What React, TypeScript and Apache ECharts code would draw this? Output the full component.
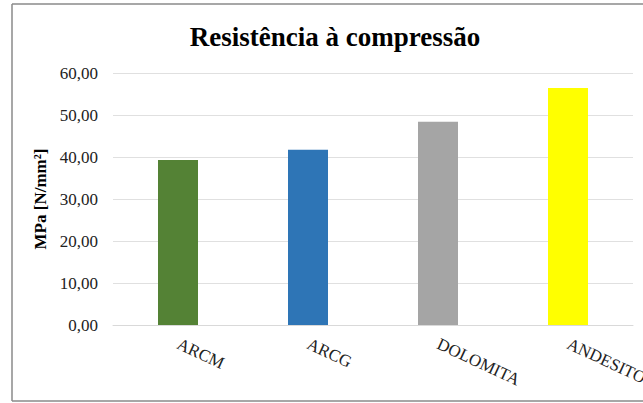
import React, { useEffect, useRef } from "react";
import * as echarts from "echarts";

const categories = ["ARCM", "ARCG", "DOLOMITA", "ANDESITO"];
const values = [39.3, 41.7, 48.4, 56.4];
const barColors = ["#548235", "#2e75b6", "#a5a5a5", "#ffff00"];
const yTicks = { min: 0, max: 60, interval: 10 };
const titleText = "Resistência à compressão";
const yAxisName = "MPa [N/mm²]";

export default function App() {
  const ref = useRef<HTMLDivElement>(null);
  useEffect(() => {
    document.body.style.margin = "0";
    const chart = echarts.init(ref.current!, null, { renderer: "svg" });
    const serif = "'Liberation Serif', 'Times New Roman', serif";
    const border = { stroke: "#8a8a8a", lineWidth: 1.5 };
    chart.setOption({
      animation: false,
      backgroundColor: "#ffffff",
      textStyle: { fontFamily: serif },
      graphic: [
        { type: "line", shape: { x1: 12, y1: 4, x2: 643, y2: 4 }, style: border, z: 100 },
        { type: "line", shape: { x1: 12, y1: 4, x2: 12, y2: 401 }, style: border, z: 100 },
        { type: "line", shape: { x1: 12, y1: 401, x2: 643, y2: 401 }, style: border, z: 100 },
        {
          type: "text",
          x: 335,
          y: 37,
          style: {
            text: titleText,
            fontFamily: serif,
            fontSize: 27,
            fontWeight: "bold",
            fill: "#000",
            textAlign: "center",
            textVerticalAlign: "middle",
          },
        },
      ],
      grid: { left: 113, right: 10, top: 73, bottom: 78, outerBoundsMode: "none", containLabel: false },
      xAxis: {
        type: "category",
        data: categories,
        axisLine: { lineStyle: { color: "#d9d9d9", width: 1 } },
        axisTick: { show: false },
        axisLabel: {
          rotate: -25,
          interval: 0,
          margin: 18,
          fontFamily: serif,
          fontSize: 17,
          color: "#222",
        },
      },
      yAxis: {
        type: "value",
        min: yTicks.min,
        max: yTicks.max,
        interval: yTicks.interval,
        name: yAxisName,
        nameLocation: "middle",
        nameGap: 60,
        nameTextStyle: { fontFamily: serif, fontSize: 17, fontWeight: "bold", color: "#000" },
        axisLine: { show: false },
        axisTick: { show: false },
        splitLine: { lineStyle: { color: "#e0e0e0", width: 1 } },
        axisLabel: {
          margin: 15,
          fontFamily: serif,
          fontSize: 17,
          color: "#222",
          formatter: (v: number) => v.toFixed(2).replace(".", ","),
        },
      },
      series: [
        {
          type: "bar",
          barWidth: 40,
          data: values.map((v, i) => ({ value: v, itemStyle: { color: barColors[i] } })),
        },
      ],
    });
    return () => chart.dispose();
  }, []);
  return <div ref={ref} style={{ width: 643, height: 403 }} />;
}
